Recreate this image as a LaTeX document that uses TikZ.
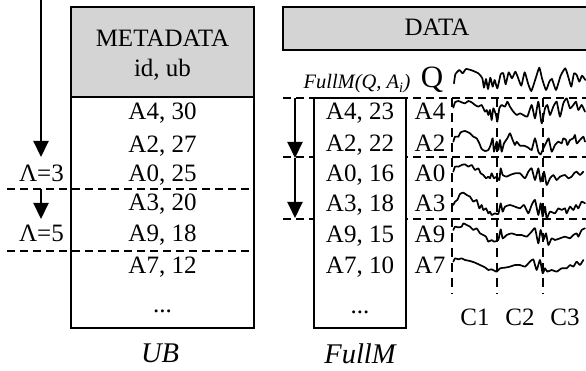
\documentclass[tikz,border=0pt]{standalone}
\usepackage{fontspec}
\setmainfont{Liberation Serif}
\usetikzlibrary{arrows.meta}
\definecolor{hdr}{RGB}{212,212,212}
\begin{document}
\begin{tikzpicture}[x=1pt,y=-1pt,
  txt/.style={inner sep=0pt,anchor=base,font=\fontsize{25}{28}\selectfont},
  rtxt/.style={txt,anchor=base east},
  itxt/.style={inner sep=0pt,anchor=base,font=\fontsize{28.5}{32}\selectfont\itshape},
  boxline/.style={draw=black,line width=1.3pt},
  dline/.style={draw=black,line width=1.2pt,dash pattern=on 8pt off 5pt},
  wave/.style={draw=black,line width=1.7pt,line join=round,line cap=round},
  bigarrow/.style={draw=black,line width=2pt,-{Triangle[width=15pt,length=16pt]}}]
\useasboundingbox (0,0) rectangle (586,371);

% ---------- left: UB table ----------
\draw[boxline,fill=hdr] (71,7) rectangle (254,97);
\draw[boxline] (71,97) rectangle (254,328);
\node[txt] (meta) at (162.5,46.7) {METADATA};
\node[txt] (idub) at (162.5,77) {id, ub};
\node[txt] (u1) at (162.5,120) {A4, 30};
\node[txt] (u2) at (162.5,152.5) {A2, 27};
\node[txt] (u3) at (162.5,181.7) {A0, 25};
\node[txt] (u4) at (162.5,210.5) {A3, 20};
\node[txt] (u5) at (162.5,242) {A9, 18};
\node[txt] (u6) at (162.5,273.5) {A7, 12};
\node[txt] (u7) at (162.5,312) {...};
\node[itxt] (ub) at (160,362) {UB};

\coordinate (l1a) at (7,189);  \coordinate (l1b) at (254,189);
\coordinate (l2a) at (7,251);  \coordinate (l2b) at (254,251);
\draw[dline] (l1a) -- (l1b);
\draw[dline] (l2a) -- (l2b);
\node[rtxt] (lam3) at (64,181.7) {Λ=3};
\node[rtxt] (lam5) at (64,242) {Λ=5};
\coordinate (a1s) at (41,0);   \coordinate (a1e) at (41,157);
\coordinate (a2s) at (41,189); \coordinate (a2e) at (41,219);
\draw[bigarrow] (a1s) -- (a1e);
\draw[bigarrow] (a2s) -- (a2e);

% ---------- right: DATA ----------
\draw[boxline,fill=hdr] (283,7) rectangle (592,50);
\node[txt] (data) at (437,35.7) {DATA};

% horizontal dashed lines
\coordinate (r1a) at (283,98);  \coordinate (r1b) at (586,98);
\coordinate (r2a) at (283,157); \coordinate (r2b) at (586,157);
\coordinate (r3a) at (283,219); \coordinate (r3b) at (586,219);
\draw[dline] (r1a) -- (r1b);
\draw[dline] (r2a) -- (r2b);
\draw[dline] (r3a) -- (r3b);
% vertical dashed lines
\foreach \xx in {452,497,543}{
  \draw[dline,dash pattern=on 9pt off 6pt] (\xx,98) -- (\xx,294);
}

% FullM box
\draw[boxline,fill=white] (314,98) rectangle (406,328);
\node[inner sep=0pt,anchor=base,font=\fontsize{20.5}{24}\selectfont\itshape] (fq) at (357,89) {FullM(Q, A\textsubscript{i})};
\node[inner sep=0pt,anchor=base,font=\fontsize{31}{34}\selectfont] (q) at (432,88) {Q};
\node[txt] (f1) at (360,120) {A4, 23};
\node[txt] (f2) at (360,151.7) {A2, 22};
\node[txt] (f3) at (360,181.7) {A0, 16};
\node[txt] (f4) at (360,211.7) {A3, 18};
\node[txt] (f5) at (360,243) {A9, 15};
\node[txt] (f6) at (360,273) {A7, 10};
\node[txt] (f7) at (360,313) {...};
\node[itxt] (fm) at (360,363) {FullM};

\node[txt] (d1) at (430,120) {A4};
\node[txt] (d2) at (430,151.7) {A2};
\node[txt] (d3) at (430,181.7) {A0};
\node[txt] (d4) at (430,211.7) {A3};
\node[txt] (d5) at (430,243) {A9};
\node[txt] (d6) at (430,273) {A7};

\node[txt] (c1) at (475,325) {C1};
\node[txt] (c2) at (520,325) {C2};
\node[txt] (c3) at (565,325) {C3};

% right arrow with mid head
\coordinate (b1) at (295,98); \coordinate (b2) at (295,158); \coordinate (b3) at (295,218);
\draw[bigarrow] (b1) -- (b2);
\draw[bigarrow] (b2) -- (b3);

% waves (zoom coordinates, 3x)
\begin{scope}[shift={(450pt,-65pt)},x=0.3333pt,y=-0.3333pt]
\draw[wave] plot[smooth,tension=0.3] coordinates {(12,55)(16,28)(28,15)(38,25)(48,12)(65,16)(85,25)(97,40)(102,68)(108,42)(114,72)(121,38)(128,65)(134,45)(142,70)(152,28)(160,25)(167,58)(176,22)(186,40)(196,20)(204,38)(214,62)(224,22)(234,55)(244,78)(257,40)(268,8)(276,40)(288,75)(298,50)(306,42)(318,75)(332,32)(346,10)(356,40)(364,65)(372,25)(380,30)(388,50)(396,32)(406,45)};
\draw[wave] plot[smooth,tension=0.3] coordinates {(10,128)(15,112)(25,108)(35,112)(45,115)(55,108)(65,112)(75,120)(85,125)(95,120)(105,140)(110,135)(115,150)(120,135)(125,165)(130,130)(138,150)(142,170)(148,130)(155,120)(165,125)(172,110)(180,125)(190,140)(200,150)(210,145)(220,150)(232,155)(245,120)(255,160)(265,110)(275,175)(285,130)(292,120)(300,150)(310,125)(320,110)(330,155)(340,115)(350,100)(360,130)(370,120)(378,110)(385,135)(395,120)(405,140)};
\end{scope}
\begin{scope}[shift={(450pt,-125pt)},x=0.3333pt,y=-0.3333pt]
\draw[wave] plot[smooth,tension=0.3] coordinates {(10,50)(15,35)(25,35)(32,22)(45,18)(60,25)(70,35)(80,40)(88,55)(95,72)(105,78)(115,75)(122,60)(128,40)(132,80)(140,50)(145,75)(150,45)(155,80)(162,55)(172,40)(180,25)(188,45)(195,60)(200,50)(210,62)(222,62)(235,68)(245,75)(255,40)(265,80)(272,88)(280,70)(290,50)(296,40)(305,80)(315,60)(325,50)(335,55)(340,40)(348,45)(352,60)(360,45)(370,40)(375,30)(380,55)(390,45)(400,35)(405,50)};
\draw[wave] plot[smooth,tension=0.3] coordinates {(10,140)(15,125)(25,125)(35,120)(45,118)(55,125)(65,120)(75,135)(85,130)(92,145)(100,150)(108,160)(115,155)(120,160)(125,145)(132,160)(140,155)(148,165)(152,130)(158,150)(170,155)(180,150)(195,145)(210,145)(225,160)(235,140)(245,130)(255,165)(265,130)(272,170)(282,140)(290,180)(300,160)(310,150)(320,165)(330,155)(345,150)(355,160)(365,155)(372,145)(380,140)(390,150)(400,140)};
\end{scope}
\begin{scope}[shift={(450pt,-190pt)},x=0.3333pt,y=-0.3333pt]
\draw[wave] plot[smooth,tension=0.3] coordinates {(10,45)(15,35)(22,30)(30,12)(40,8)(50,15)(60,20)(70,35)(80,30)(88,55)(95,45)(100,60)(108,55)(115,70)(120,65)(125,75)(135,70)(145,72)(152,40)(158,65)(165,50)(180,45)(195,50)(210,55)(222,45)(235,70)(245,45)(255,30)(265,75)(272,40)(278,80)(285,50)(290,85)(300,65)(315,70)(325,55)(335,60)(345,55)(350,70)(360,50)(370,60)(378,45)(385,55)(395,35)(405,40)};
\draw[wave] plot[smooth,tension=0.3] coordinates {(10,120)(15,110)(25,112)(35,110)(40,100)(50,105)(60,110)(70,120)(80,115)(90,130)(100,135)(108,140)(115,155)(125,150)(132,155)(145,150)(152,118)(158,145)(170,135)(185,130)(200,135)(215,135)(230,140)(245,125)(255,115)(265,160)(272,120)(280,150)(288,130)(295,165)(305,145)(315,150)(330,145)(345,140)(360,145)(370,135)(380,130)(385,140)(395,120)(405,115)};
\draw[wave] plot[smooth,tension=0.3] coordinates {(10,215)(15,205)(25,208)(35,205)(45,210)(60,213)(75,218)(90,225)(105,232)(115,240)(125,238)(140,245)(150,235)(165,233)(180,230)(195,225)(210,225)(225,230)(240,215)(250,208)(260,240)(270,210)(278,250)(285,235)(292,245)(305,240)(320,245)(335,235)(350,235)(360,225)(370,230)(380,215)(390,225)(400,210)};
\end{scope}
\end{tikzpicture}
\end{document}
